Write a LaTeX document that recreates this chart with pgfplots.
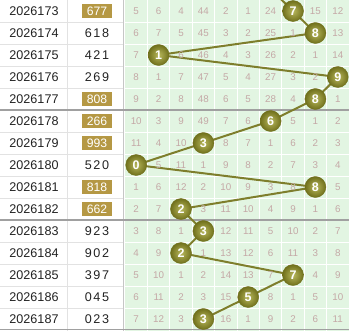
\documentclass[border=0pt]{standalone}
\usepackage{fontspec}
\setmainfont{Liberation Sans}
\usepackage{pgfplots}
\pgfplotsset{compat=1.18}
\definecolor{cellbg}{RGB}{226,245,226}
\definecolor{celltxt}{RGB}{196,168,166}
\definecolor{gold}{RGB}{181,152,68}
\definecolor{linec}{RGB}{126,126,44}
\definecolor{ballin}{RGB}{184,184,92}
\definecolor{ballout}{RGB}{112,112,28}
\definecolor{sep}{RGB}{160,160,160}
\definecolor{rowline}{RGB}{226,226,226}
\definecolor{txt}{RGB}{34,34,34}
\begin{document}
\begin{tikzpicture}
\begin{axis}[
  width=349bp, height=331bp, scale only axis,
  xmin=-6.0804, xmax=9.5, ymin=-0.5, ymax=14.545,
  y dir=reverse, hide axis, clip=true,
]
% background of the trend grid
\fill[cellbg] (axis cs:-0.5,-0.5) rectangle (axis cs:9.5,14.545);
\pgfplotsinvokeforeach{0.5,1.5,2.5,3.5,4.5,5.5,6.5,7.5,8.5}{
  \draw[white, line width=1bp] (axis cs:#1,-0.5) -- (axis cs:#1,14.545);
}
\pgfplotsinvokeforeach{0.5,1.5,2.5,3.5,5.5,6.5,7.5,8.5,10.5,11.5,12.5,13.5}{
  \draw[white, line width=1bp] (axis cs:-0.5,#1) -- (axis cs:9.5,#1);
  \draw[rowline, line width=0.8bp] (axis cs:-6.0804,#1) -- (axis cs:-0.589,#1);
}
\draw[rowline, line width=1bp] (axis cs:-3.045,-0.5) -- (axis cs:-3.045,14.545);
\draw[sep!60, line width=1bp] (axis cs:-0.589,-0.5) -- (axis cs:-0.589,14.545);
\pgfplotsinvokeforeach{4.5,9.5,14.48}{
  \draw[sep, line width=1.5bp] (axis cs:-6.0804,#1) -- (axis cs:9.5,#1);
}

% cell values (omission counts)
\addplot[only marks, mark=none, nodes near coords, point meta=explicit symbolic,
  nodes near coords style={anchor=center, text=celltxt, inner sep=0pt,
  font=\fontsize{9.8bp}{10bp}\selectfont}]
  table[meta=v, row sep=\\] {
x y v\\
0 0 5\\ 1 0 6\\ 2 0 4\\ 3 0 44\\ 4 0 2\\ 5 0 1\\ 6 0 24\\ 8 0 15\\ 9 0 12\\
0 1 6\\ 1 1 7\\ 2 1 5\\ 3 1 45\\ 4 1 3\\ 5 1 2\\ 6 1 25\\ 7 1 1\\ 9 1 13\\
0 2 7\\ 2 2 6\\ 3 2 46\\ 4 2 4\\ 5 2 3\\ 6 2 26\\ 7 2 2\\ 8 2 1\\ 9 2 14\\
0 3 8\\ 1 3 1\\ 2 3 7\\ 3 3 47\\ 4 3 5\\ 5 3 4\\ 6 3 27\\ 7 3 3\\ 8 3 2\\
0 4 9\\ 1 4 2\\ 2 4 8\\ 3 4 48\\ 4 4 6\\ 5 4 5\\ 6 4 28\\ 7 4 4\\ 9 4 1\\
0 5 10\\ 1 5 3\\ 2 5 9\\ 3 5 49\\ 4 5 7\\ 5 5 6\\ 7 5 5\\ 8 5 1\\ 9 5 2\\
0 6 11\\ 1 6 4\\ 2 6 10\\ 4 6 8\\ 5 6 7\\ 6 6 1\\ 7 6 6\\ 8 6 2\\ 9 6 3\\
1 7 5\\ 2 7 11\\ 3 7 1\\ 4 7 9\\ 5 7 8\\ 6 7 2\\ 7 7 7\\ 8 7 3\\ 9 7 4\\
0 8 1\\ 1 8 6\\ 2 8 12\\ 3 8 2\\ 4 8 10\\ 5 8 9\\ 6 8 3\\ 7 8 8\\ 9 8 5\\
0 9 2\\ 1 9 7\\ 3 9 3\\ 4 9 11\\ 5 9 10\\ 6 9 4\\ 7 9 9\\ 8 9 1\\ 9 9 6\\
0 10 3\\ 1 10 8\\ 2 10 1\\ 4 10 12\\ 5 10 11\\ 6 10 5\\ 7 10 10\\ 8 10 2\\ 9 10 7\\
0 11 4\\ 1 11 9\\ 3 11 1\\ 4 11 13\\ 5 11 12\\ 6 11 6\\ 7 11 11\\ 8 11 3\\ 9 11 8\\
0 12 5\\ 1 12 10\\ 2 12 1\\ 3 12 2\\ 4 12 14\\ 5 12 13\\ 6 12 7\\ 8 12 4\\ 9 12 9\\
0 13 6\\ 1 13 11\\ 2 13 2\\ 3 13 3\\ 4 13 15\\ 6 13 8\\ 7 13 1\\ 8 13 5\\ 9 13 10\\
0 14 7\\ 1 14 12\\ 2 14 3\\ 4 14 16\\ 5 14 1\\ 6 14 9\\ 7 14 2\\ 8 14 6\\ 9 14 11\\
};

% trend line through the units digit
\addplot[linec, line width=2bp, mark=none] table[row sep=\\] {
x y\\
6 -1\\ 7 0\\ 8 1\\ 1 2\\ 9 3\\ 8 4\\ 6 5\\ 3 6\\ 0 7\\ 8 8\\ 2 9\\ 3 10\\ 2 11\\ 7 12\\ 5 13\\ 3 14\\
};

% balls
\addplot[only marks, mark=none, nodes near coords, point meta=explicit symbolic,
  nodes near coords style={anchor=center, circle, inner sep=0pt, minimum size=21bp,
  inner color=ballin, outer color=ballout, draw=ballout, line width=0.4bp, text=white,
  font=\bfseries\fontsize{12.5bp}{12bp}\selectfont}]
  table[meta=v, row sep=\\] {
x y v\\
7 0 7\\ 8 1 8\\ 1 2 1\\ 9 3 9\\ 8 4 8\\ 6 5 6\\ 3 6 3\\ 0 7 0\\ 8 8 8\\ 2 9 2\\ 3 10 3\\ 2 11 2\\ 7 12 7\\ 5 13 5\\ 3 14 3\\
};

% period labels
\addplot[only marks, mark=none, nodes near coords, point meta=explicit symbolic,
  nodes near coords style={anchor=center, text=txt, inner sep=0pt,
  font=\fontsize{12.6bp}{14bp}\selectfont}]
  coordinates {
  (-4.5625,0) [2026173] (-4.5625,1) [2026174] (-4.5625,2) [2026175]
  (-4.5625,3) [2026176] (-4.5625,4) [2026177] (-4.5625,5) [2026178]
  (-4.5625,6) [2026179] (-4.5625,7) [2026180] (-4.5625,8) [2026181]
  (-4.5625,9) [2026182] (-4.5625,10) [2026183] (-4.5625,11) [2026184]
  (-4.5625,12) [2026185] (-4.5625,13) [2026186] (-4.5625,14) [2026187]
  };

% drawn numbers, plain
\addplot[only marks, mark=none, nodes near coords, point meta=explicit symbolic,
  nodes near coords style={anchor=center, text=txt, inner sep=0pt,
  font=\fontsize{12.6bp}{14bp}\selectfont\addfontfeature{LetterSpace=12}}]
  coordinates {
  (-1.75,1) [618] (-1.75,2) [421] (-1.75,3) [269] (-1.75,7) [520]
  (-1.75,10) [923] (-1.75,11) [902] (-1.75,12) [397] (-1.75,13) [045]
  (-1.75,14) [023]
  };

% drawn numbers, highlighted
\addplot[only marks, mark=none, nodes near coords, point meta=explicit symbolic,
  nodes near coords style={anchor=center, text=white, fill=gold, inner sep=0pt,
  minimum width=30bp, minimum height=14.5bp,
  font=\fontsize{12.2bp}{14bp}\selectfont}]
  coordinates {
  (-1.75,0) [677] (-1.75,4) [808] (-1.75,5) [266] (-1.75,6) [993]
  (-1.75,8) [818] (-1.75,9) [662]
  };
\end{axis}
\pgfresetboundingbox
\path[use as bounding box] (current axis.south west) rectangle (current axis.north east);
\end{tikzpicture}
\end{document}
